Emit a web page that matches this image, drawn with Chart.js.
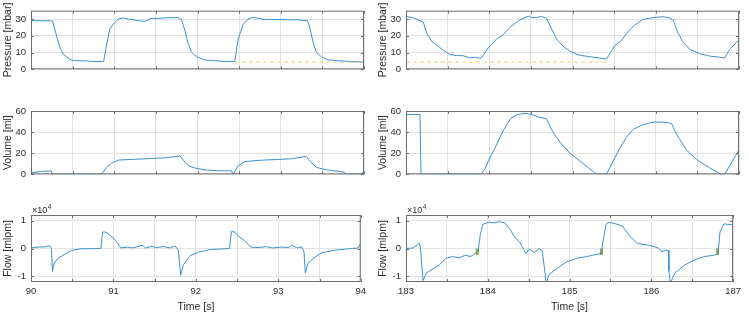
<!DOCTYPE html>
<html><head><meta charset="utf-8">
<script src="https://cdn.jsdelivr.net/npm/chart.js@4/dist/chart.umd.min.js"></script>
<style>
html,body{margin:0;padding:0;background:#fff;}
body{width:749px;height:314px;overflow:hidden;position:relative;}
canvas{position:absolute;}
</style></head><body>
<script>
// ---------- DATA (time [s], value) ----------
const pressureLeft = [[90,29.1],[90.248,28.9],[90.26,28.8],[90.308,19.8],[90.348,12.8],[90.388,9.0],[90.468,5.8],[90.528,5.1],[90.648,5.1],[90.728,4.7],[90.856,4.6],[90.872,4.6],[90.908,14.6],[90.948,24.2],[91.0,27.7],[91.048,30.0],[91.108,30.7],[91.168,30.0],[91.288,29.1],[91.368,28.6],[91.408,29.8],[91.44,30.4],[91.528,30.4],[91.608,30.7],[91.688,30.9],[91.768,30.9],[91.808,29.5],[91.848,23.3],[91.888,15.4],[91.928,10.2],[91.988,7.5],[92.088,5.6],[92.208,5.1],[92.328,4.7],[92.428,4.6],[92.448,4.6],[92.488,18.0],[92.548,26.8],[92.608,30.0],[92.668,31.0],[92.708,30.7],[92.788,29.8],[93.008,29.8],[93.128,29.5],[93.208,29.6],[93.268,29.1],[93.32,29.3],[93.348,25.0],[93.388,16.3],[93.428,10.2],[93.488,7.5],[93.568,5.6],[93.688,5.1],[93.808,4.7],[94.0,4.4]];
const pressureRight = [[183,31.6],[183.088,30.7],[183.208,28.2],[183.248,21.6],[183.308,16.7],[183.388,13.7],[183.448,11.4],[183.528,8.8],[183.608,8.2],[183.688,8.1],[183.768,6.8],[183.828,7.2],[183.9,6.5],[183.928,8.4],[183.988,12.8],[184.088,18.1],[184.168,20.7],[184.248,25.1],[184.368,29.5],[184.468,31.8],[184.508,30.9],[184.568,30.9],[184.628,31.6],[184.688,30.4],[184.748,24.2],[184.808,18.1],[184.888,13.7],[184.988,10.2],[185.088,8.4],[185.208,7.5],[185.328,6.7],[185.408,6.1],[185.448,9.3],[185.508,14.2],[185.588,17.2],[185.668,22.5],[185.748,26.5],[185.848,29.8],[185.968,30.9],[186.088,31.4],[186.168,30.7],[186.208,29.5],[186.268,21.6],[186.328,16.3],[186.408,11.9],[186.528,9.3],[186.648,7.9],[186.768,7.2],[186.828,6.8],[186.888,11.9],[187,17.7]];
const peepLeft = [[92.45,4.3],[94,4.3]];
const peepRight = [[183,4.3],[185.41,4.3]];

const volumeLeft = [[90,1.5],[90.128,2.7],[90.24,3.3],[90.256,0],[90.848,0],[90.908,6.6],[90.968,10.5],[91.048,13.5],[91.208,14.1],[91.448,15],[91.608,15.6],[91.768,17.1],[91.788,17.7],[91.828,13.5],[91.888,8.1],[91.968,6],[92.088,4.2],[92.248,3.3],[92.408,3.3],[92.428,0],[92.488,8.1],[92.568,12],[92.728,13.2],[92.968,14.1],[93.128,14.7],[93.268,16.5],[93.308,16.8],[93.348,12.6],[93.428,6.6],[93.528,4.5],[93.76,2.1],[93.776,0],[93.928,0],[94,1.5]];
const volumeRight = [[183,56.7],[183.168,56.7],[183.18,0],[183.9,0],[183.948,5.1],[184.008,15.6],[184.068,24.6],[184.128,35.1],[184.208,47.1],[184.268,53.7],[184.348,56.7],[184.428,57.9],[184.508,56.7],[184.608,54],[184.688,52.5],[184.768,39.6],[184.848,30.6],[184.968,20.1],[185.088,12.6],[185.208,5.1],[185.288,0],[185.408,0],[185.488,12.6],[185.568,24.6],[185.648,35.1],[185.728,42.6],[185.848,47.1],[185.968,49.5],[186.088,49.5],[186.188,48.3],[186.248,38.1],[186.368,23.1],[186.488,14.1],[186.648,6],[186.788,0],[186.828,0],[187,23.1]];

const flowLeft = [[90,200],[90.088,500],[90.168,600],[90.228,1000],[90.248,0],[90.26,-8200],[90.28,-5300],[90.328,-3500],[90.408,-2100],[90.488,-700],[90.608,-100],[90.848,0],[90.868,5900],[90.908,5900],[90.96,4700],[91.008,3500],[91.048,2100],[91.088,200],[91.168,500],[91.228,200],[91.288,600],[91.348,1200],[91.388,200],[91.468,800],[91.528,300],[91.608,700],[91.688,200],[91.748,900],[91.788,-600],[91.816,-9600],[91.848,-5900],[91.928,-2600],[92.048,-1200],[92.168,-400],[92.408,0],[92.432,6100],[92.472,5900],[92.528,4100],[92.588,2900],[92.668,500],[92.768,300],[92.848,700],[92.928,200],[93.048,500],[93.128,300],[93.168,1200],[93.228,200],[93.288,600],[93.312,-1200],[93.328,-8800],[93.36,-5300],[93.428,-3500],[93.528,-1500],[93.688,-600],[93.848,-100],[93.968,200],[94,1800]];
const flowRight = [[183,0],[183.088,200],[183.136,1200],[183.16,2000],[183.176,500],[183.208,-11500],[183.248,-8800],[183.328,-7300],[183.408,-5900],[183.488,-3500],[183.568,-2900],[183.648,-3300],[183.728,-2400],[183.788,-2900],[183.848,-1800],[183.88,-1200],[183.908,4700],[183.936,8600],[184.008,9400],[184.088,9200],[184.128,9600],[184.208,9200],[184.268,7100],[184.328,4100],[184.388,2400],[184.468,-1800],[184.508,-200],[184.568,-1400],[184.628,0],[184.668,-900],[184.688,-5900],[184.716,-12500],[184.748,-9400],[184.848,-7100],[184.968,-4700],[185.088,-3500],[185.208,-2900],[185.328,-2100],[185.388,-1800],[185.408,2400],[185.448,8800],[185.488,9400],[185.568,8800],[185.648,8000],[185.728,4700],[185.828,1800],[185.968,1200],[186.088,200],[186.128,-1200],[186.176,-600],[186.208,-600],[186.216,-8200],[186.232,-12500],[186.288,-8800],[186.408,-5900],[186.528,-4100],[186.648,-2900],[186.768,-2400],[186.816,-1800],[186.84,5900],[186.888,8800],[187,8500]];
const triggerTimes = [183.87, 185.39, 186.81];
const triggerRange = [0, -2300];

// ---------- TICKS ----------
const xTicksLeft = [90, 90.5, 91, 91.5, 92, 92.5, 93, 93.5, 94];
const xTicksRight = [183, 183.5, 184, 184.5, 185, 185.5, 186, 186.5, 187];
const xLabelTicksLeft = [90, 91, 92, 93, 94];
const xLabelTicksRight = [183, 184, 185, 186, 187];
const pressureTicks = [0, 10, 20, 30];
const volumeTicks = [0, 20, 40, 60];
const flowTicks = [-10000, 0, 10000];
const flowTickLabels = ['-1', '0', '1'];

// ---------- STYLE ----------
const FONT = '"Liberation Sans", Arial, Helvetica, sans-serif';
const TXT = '#2b2b2b';
const GRID = '#e3e3e3';
const BOX = '#6f6f6f';
const LINE = '#3b93cf';

const xy = a => a.map(([x,y]) => ({x, y}));
const trig = triggerTimes.flatMap(t => [{x:t,y:triggerRange[0]},{x:t,y:triggerRange[1]},{x:t,y:null}]);

const framePlugin = {
  id: 'frame',
  afterDraw(chart, args, opts) {
    const {ctx, chartArea: a, scales: {x, y}} = chart;
    ctx.save();
    ctx.strokeStyle = BOX; ctx.lineWidth = 1;
    ctx.beginPath();
    x.ticks.forEach(t => {
      const p = Math.round(x.getPixelForValue(t.value)) + 0.5;
      ctx.moveTo(p, a.bottom); ctx.lineTo(p, a.bottom - 3);
      ctx.moveTo(p, a.top); ctx.lineTo(p, a.top + 3);
    });
    y.ticks.forEach(t => {
      const p = Math.round(y.getPixelForValue(t.value)) + 0.5;
      ctx.moveTo(a.left, p); ctx.lineTo(a.left + 3, p);
      ctx.moveTo(a.right, p); ctx.lineTo(a.right - 3, p);
    });
    ctx.stroke();
    ctx.strokeRect(a.left + 0.5, a.top + 0.5, a.right - a.left - 1, a.bottom - a.top - 1);
    if (opts.exp) {
      ctx.fillStyle = TXT;
      ctx.textBaseline = 'alphabetic';
      ctx.font = '9px ' + FONT;
      ctx.fillText('\u00d710', a.left + 1, a.top - 2);
      const w = ctx.measureText('\u00d710').width;
      ctx.font = '6.5px ' + FONT;
      ctx.fillText('4', a.left + 1 + w + 0.5, a.top - 6);
    }
    ctx.restore();
  }
};

function makeChart(left, top, w, h, padTop, xH, xr, xTicks, xLabels, yr, yTicks, yLabel, yTitle, showX, datasets, exp) {
  const c = document.createElement('canvas');
  c.width = w; c.height = h;
  c.style.left = left + 'px'; c.style.top = top + 'px';
  c.style.width = w + 'px'; c.style.height = h + 'px';
  document.body.appendChild(c);
  return new Chart(c, {
    type: 'line',
    data: { datasets },
    plugins: [framePlugin],
    options: {
      responsive: false, animation: false, devicePixelRatio: 1,
      layout: { padding: { top: padTop, right: 6, left: 0, bottom: 0 } },
      plugins: { legend: { display: false }, tooltip: { enabled: false }, frame: { exp } },
      elements: { point: { radius: 0 }, line: { tension: 0 } },
      scales: {
        x: {
          type: 'linear', min: xr[0], max: xr[1],
          grid: { color: GRID, drawTicks: false, lineWidth: 1 },
          border: { display: false },
          afterBuildTicks: s => { s.ticks = xTicks.map(v => ({ value: v })); },
          ticks: { display: showX, autoSkip: false, maxRotation: 0, padding: 4,
                   color: TXT, font: { family: FONT, size: 9.5 },
                   callback: v => xLabels.includes(v) ? String(v) : '' },
          title: { display: showX, text: 'Time [s]', color: TXT, font: { family: FONT, size: 10.5 }, padding: { top: 0, bottom: 1 } },
          afterFit: s => { s.height = xH; }
        },
        y: {
          type: 'linear', min: yr[0], max: yr[1],
          grid: { color: GRID, drawTicks: false, lineWidth: 1 },
          border: { display: false },
          afterBuildTicks: s => { s.ticks = yTicks.map(v => ({ value: v })); },
          ticks: { autoSkip: false, padding: 5, color: TXT, font: { family: FONT, size: 9.5 },
                   callback: v => { const i = yTicks.indexOf(v); return i < 0 ? '' : yLabel(v, i); } },
          title: { display: true, text: yTitle, color: TXT, font: { family: FONT, size: 10.5 }, padding: { top: 2, bottom: 0 } },
          afterFit: s => { s.width = 31; }
        }
      }
    }
  });
}

const mainDs = d => ({ data: xy(d), borderColor: LINE, borderWidth: 1, pointRadius: 0, fill: false });
const peepDs = d => ({ data: xy(d), borderColor: 'rgba(232,190,70,0.75)', borderWidth: 1, borderDash: [4, 3], pointRadius: 0, fill: false });
const trigDs = { data: trig, borderColor: '#8fb23a', borderWidth: 3, pointRadius: 0, spanGaps: false, fill: false };

const plain = v => String(v);
const flowLab = (v, i) => flowTickLabels[i];

const colL = 0, colR = 375, W = 370;

// Pressure row
makeChart(colL, 0, W, 80, 6, 7, [90, 94], xTicksLeft, xLabelTicksLeft, [0, 35], pressureTicks, plain, 'Pressure [mbar]', false,
  [peepDs(peepLeft), mainDs(pressureLeft)], false);
makeChart(colR, 0, W, 80, 6, 7, [183, 187], xTicksRight, xLabelTicksRight, [0, 35], pressureTicks, plain, 'Pressure [mbar]', false,
  [peepDs(peepRight), mainDs(pressureRight)], false);

// Volume row
makeChart(colL, 100, W, 85, 11, 7, [90, 94], xTicksLeft, xLabelTicksLeft, [0, 60], volumeTicks, plain, 'Volume [ml]', false,
  [mainDs(volumeLeft)], false);
makeChart(colR, 100, W, 85, 11, 7, [183, 187], xTicksRight, xLabelTicksRight, [0, 60], volumeTicks, plain, 'Volume [ml]', false,
  [mainDs(volumeRight)], false);

// Flow row
makeChart(colL, 200, W, 114, 15, 32, [90, 94], xTicksLeft, xLabelTicksLeft, [-12000, 12000], flowTicks, flowLab, 'Flow [mlpm]', true,
  [mainDs(flowLeft)], true);
makeChart(colR, 200, W, 114, 15, 32, [183, 187], xTicksRight, xLabelTicksRight, [-12000, 12000], flowTicks, flowLab, 'Flow [mlpm]', true,
  [mainDs(flowRight), trigDs], true);
</script>
</body></html>
